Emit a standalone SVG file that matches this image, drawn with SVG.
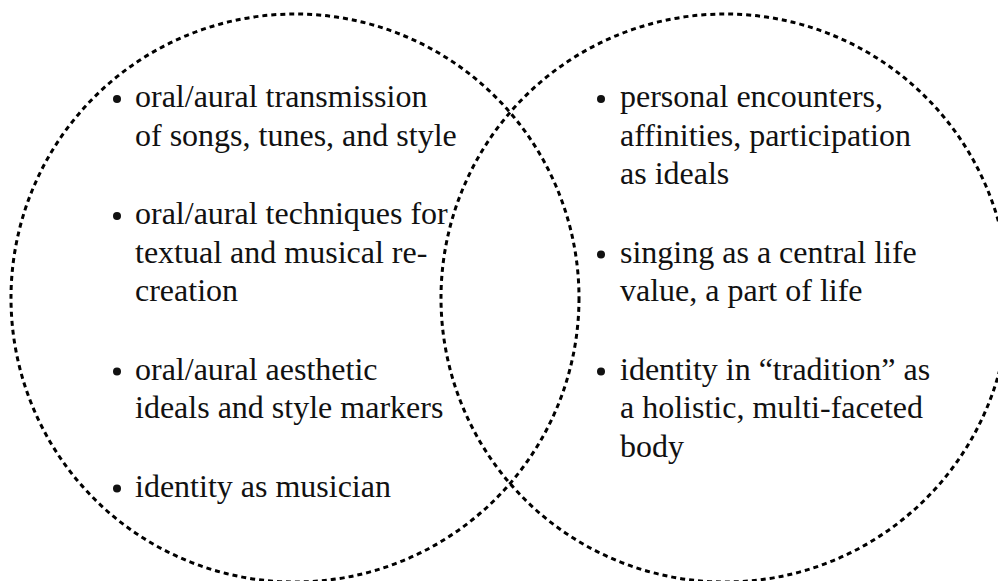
<svg xmlns="http://www.w3.org/2000/svg" width="998" height="581" viewBox="0 0 998 581">
<style>
.ring{fill:none;stroke:#000;stroke-width:3;stroke-dasharray:5 4}
.t{font-family:'Liberation Serif','Times New Roman',Tinos,'DejaVu Serif',serif;font-size:32px;fill:#111}
.b{fill:#111}
</style>
<rect width="998" height="581" fill="#fff"/>
<g id="left-set">
<circle class="ring" cx="295" cy="298" r="284"/>
</g>
<g id="right-set">
<circle class="ring" cx="725" cy="298" r="284"/>
</g>
<g id="connectors"></g>
<g id="left-items">
<circle class="b" cx="117" cy="99" r="4"/>
<text class="t" x="135" y="107">oral/aural transmission</text>
<text class="t" x="135" y="145.5">of songs, tunes, and style</text>
<circle class="b" cx="117" cy="216" r="4"/>
<text class="t" x="135" y="224">oral/aural techniques for</text>
<text class="t" x="135" y="262.5">textual and musical re-</text>
<text class="t" x="135" y="301">creation</text>
<circle class="b" cx="117" cy="371.5" r="4"/>
<text class="t" x="135" y="379.5">oral/aural aesthetic</text>
<text class="t" x="135" y="418">ideals and style markers</text>
<circle class="b" cx="117" cy="488.5" r="4"/>
<text class="t" x="135" y="496.5">identity as musician</text>
</g>
<g id="right-items">
<circle class="b" cx="601" cy="99" r="4"/>
<text class="t" x="620" y="107">personal encounters,</text>
<text class="t" x="620" y="145.5">affinities, participation</text>
<text class="t" x="620" y="184">as ideals</text>
<circle class="b" cx="601" cy="254.5" r="4"/>
<text class="t" x="620" y="262.5">singing as a central life</text>
<text class="t" x="620" y="301">value, a part of life</text>
<circle class="b" cx="601" cy="371.5" r="4"/>
<text class="t" x="620" y="379.5">identity in “tradition” as</text>
<text class="t" x="620" y="418">a holistic, multi-faceted</text>
<text class="t" x="620" y="456.5">body</text>
</g>
</svg>
